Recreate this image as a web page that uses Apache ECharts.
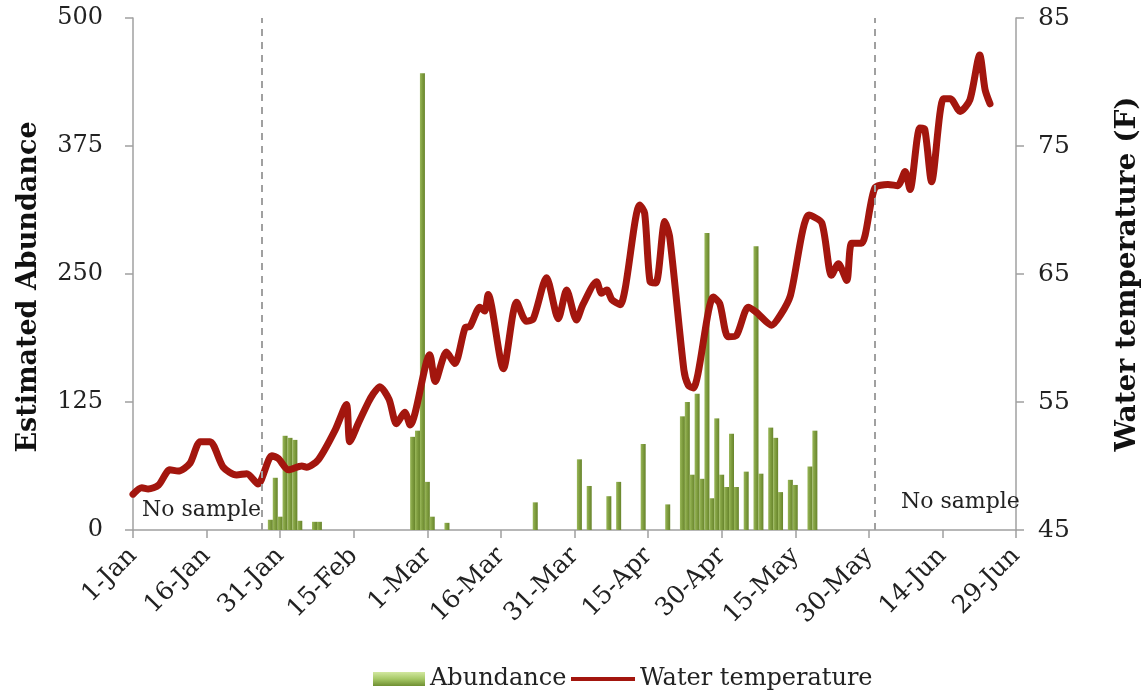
<!DOCTYPE html>
<html>
<head>
<meta charset="utf-8">
<script src="https://cdn.jsdelivr.net/npm/echarts@6/dist/echarts.min.js"></script>
<style>
html,body{margin:0;padding:0;background:#fff;}
#chart{width:1146px;height:694px;}
</style>
</head>
<body>
<div id="chart"></div>
<script>
// x tick labels (every 15 days from 1-Jan, leap year)
const tickLabels = ['1-Jan','16-Jan','31-Jan','15-Feb','1-Mar','16-Mar','31-Mar','15-Apr','30-Apr','15-May','30-May','14-Jun','29-Jun'];

// Abundance (bars): day index from 1-Jan, estimated abundance
const abundanceDays   = [28,29,30,31,32,33,34,37,38,57,58,59,60,61,64,82,91,93,97,99,104,109,112,113,114,115,116,117,118,119,120,121,122,123,125,127,128,130,131,132,134,135,138,139];
const abundanceValues = [10,51,13,92,90,88,9,8,8,91,97,446,47,13,7,27,69,43,33,47,84,25,111,125,54,133,50,290,31,109,54,42,94,42,57,277,55,100,90,37,49,44,62,97];

// Water temperature (line): day index from 1-Jan, temperature (F)
const tempDays = [0,1.8,3.1,5.2,7.5,9.2,11.6,13.7,15.7,18.4,21.1,23.2,25.5,28.3,29.6,31.7,34.4,35.4,37.8,41.2,43.5,44.2,46.0,48.0,48.9,50.3,52.2,53.7,55.4,56.5,60.5,61.6,63.9,65.6,67.7,68.7,70.7,71.7,72.4,75.5,78.2,80.2,81.6,84.3,86.7,88.4,90.4,91.7,94.5,95.5,96.6,97.6,99.3,103.3,104.3,105.4,106.6,108.4,109.4,112.3,113.2,114.2,118.3,119.6,121.3,123.0,125.4,127.1,130.2,132.0,134.0,137.8,140.4,142.4,143.8,145.5,146.5,148.5,151.2,153.9,155.9,157.4,158.4,160.4,161.4,162.8,165.2,166.6,168.6,170.6,172.6,173.7,174.7];
const tempValues = [47.8,48.3,48.2,48.5,49.7,49.6,50.2,51.9,51.9,49.9,49.3,49.4,48.6,50.8,50.6,49.7,50.0,49.9,50.5,52.8,54.8,51.9,53.4,55.0,55.6,56.2,55.2,53.3,54.2,53.2,58.7,56.6,58.9,58.0,60.8,60.9,62.4,62.1,63.4,57.6,62.8,61.3,61.5,64.7,61.5,63.75,61.4,62.6,64.4,63.5,63.75,63.0,62.6,70.4,69.75,64.4,64.3,69.1,67.9,57.5,56.3,56.1,63.2,62.7,60.1,60.2,62.4,62.0,61.0,61.8,63.3,69.6,69.0,64.9,65.8,64.5,67.4,67.4,71.7,72.0,71.9,73.0,71.6,76.4,76.3,72.2,78.7,78.7,77.7,78.6,82.1,79.4,78.3];

// "No sample" period boundaries (day index)
const noSampleBounds = [26.3, 151.2];

const FONT = 'DejaVu Serif';
const RED = '#a3160e';
const chart = echarts.init(document.getElementById('chart'), null, {renderer:'canvas'});

const barData = abundanceDays.map((d,i)=>[d, abundanceValues[i]]);
const lineData = tempDays.map((d,i)=>[d, tempValues[i]]);

const barGradient = new echarts.graphic.LinearGradient(0,0,1,0,[
  {offset:0, color:'#9ab85a'},
  {offset:0.5, color:'#7e9c3e'},
  {offset:1, color:'#67842c'}
]);
const legendGradient = new echarts.graphic.LinearGradient(0,0,0,1,[
  {offset:0, color:'#d2e8a0'},
  {offset:0.5, color:'#a6c866'},
  {offset:1, color:'#6f8f32'}
]);
const legendText = {fontFamily:FONT, fontSize:24, color:'#222'};

const option = {
  backgroundColor:'#ffffff',
  animation:false,
  grid:{left:133, right:130, top:18, bottom:164, containLabel:false, outerBoundsMode:'none'},
  legend:[
    {
      left:368, top:662,
      itemWidth:52, itemHeight:14,
      textStyle:legendText,
      data:[{name:'Abundance', icon:'rect', itemStyle:{color:legendGradient}}]
    },
    {
      left:566, top:662,
      itemWidth:64, itemHeight:14,
      textStyle:legendText,
      data:[{name:'Water temperature',
             icon:'path://M0,0 L0.01,0 L0.01,0.01 Z M0,14 L0.01,14 L0.01,13.99 Z M0,5 L64,5 L64,9 L0,9 Z',
             itemStyle:{color:RED, borderWidth:0}}]
    }
  ],
  xAxis:{
    type:'value', min:0, max:180, interval:15,
    splitLine:{show:false},
    axisLine:{show:true, lineStyle:{color:'#a0a0a0', width:1.5}},
    axisTick:{show:true, length:8, lineStyle:{color:'#a0a0a0', width:1.5}},
    axisLabel:{
      rotate:45, margin:22, fontFamily:FONT, fontSize:25, color:'#222',
      formatter:(v)=>tickLabels[Math.round(v/15)] || ''
    }
  },
  yAxis:[
    {
      type:'value', min:0, max:500, interval:125, position:'left',
      name:'Estimated Abundance', nameLocation:'middle', nameRotate:90, nameGap:91,
      nameTextStyle:{fontFamily:FONT, fontSize:27, fontWeight:'bold', color:'#111', padding:[0,0,0,-26]},
      splitLine:{show:false},
      axisLine:{show:true, lineStyle:{color:'#a0a0a0', width:1.5}},
      axisTick:{show:true, length:8, lineStyle:{color:'#a0a0a0', width:1.5}},
      axisLabel:{margin:30, fontFamily:FONT, fontSize:24, color:'#222'}
    },
    {
      type:'value', min:45, max:85, interval:10, position:'right',
      name:'Water temperature (F)', nameLocation:'middle', nameRotate:90, nameGap:98,
      nameTextStyle:{fontFamily:FONT, fontSize:28, fontWeight:'bold', color:'#111'},
      splitLine:{show:false},
      axisLine:{show:true, lineStyle:{color:'#a0a0a0', width:1.5}},
      axisTick:{show:true, length:8, lineStyle:{color:'#a0a0a0', width:1.5}},
      axisLabel:{margin:22, fontFamily:FONT, fontSize:25, color:'#222'}
    }
  ],
  series:[
    {
      name:'Abundance', type:'bar', yAxisIndex:0, xAxisIndex:0,
      data:barData, barWidth:5,
      itemStyle:{color:barGradient},
      markLine:{
        silent:true, symbol:['none','none'],
        label:{show:false},
        lineStyle:{type:[7,6], color:'#a0a0a0', width:2},
        data: noSampleBounds.map(v=>({xAxis:v}))
      },
      markArea:{
        silent:true,
        itemStyle:{color:'rgba(0,0,0,0)'},
        label:{show:true, position:'insideBottom', fontFamily:FONT, fontSize:22, color:'#222'},
        data:[
          [{xAxis:0, name:'No sample', label:{offset:[4,-4]}}, {xAxis:noSampleBounds[0]}],
          [{xAxis:noSampleBounds[1], name:'No sample', label:{offset:[15,-12]}}, {xAxis:180}]
        ]
      }
    },
    {
      name:'Water temperature', type:'line', yAxisIndex:1, xAxisIndex:0,
      data:lineData, showSymbol:false, symbol:'none', smooth:0.25,
      lineStyle:{color:RED, width:7, cap:'round', join:'round'},
      itemStyle:{color:RED},
      z:3
    }
  ]
};
chart.setOption(option);
</script>
</body>
</html>
